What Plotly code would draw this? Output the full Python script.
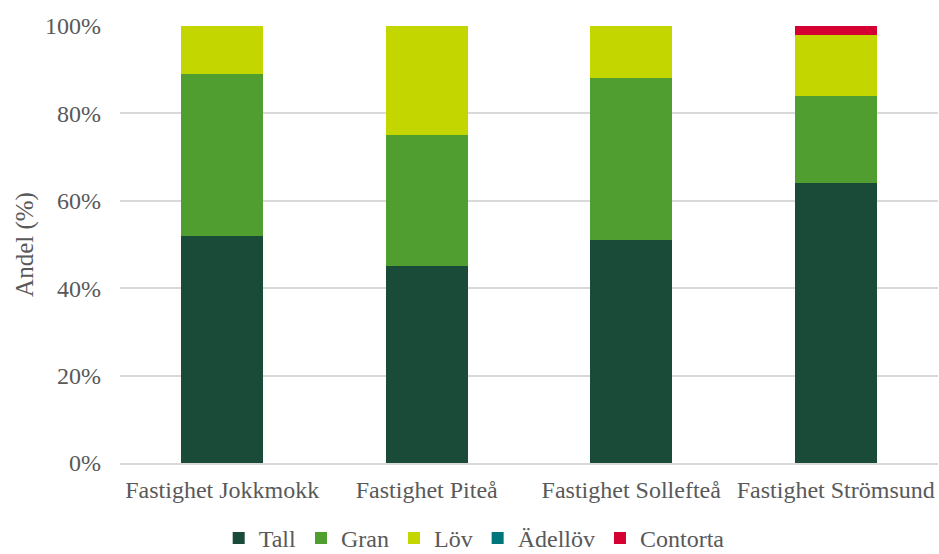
import plotly.graph_objects as go

categories = ["Fastighet Jokkmokk", "Fastighet Piteå", "Fastighet Sollefteå", "Fastighet Strömsund"]
tall = [52, 45, 51, 64]
gran = [37, 30, 37, 20]
lov = [11, 25, 12, 14]
adellov = [0, 0, 0, 0]
contorta = [0, 0, 0, 2]
series_names = ["Tall", "Gran", "Löv", "Ädellöv", "Contorta"]
colors = ["#1a4a38", "#509e2f", "#c4d600", "#00757a", "#d50032"]
y_ticks = [0, 20, 40, 60, 80, 100]
y_ticklabels = ["0%", "20%", "40%", "60%", "80%", "100%"]

FONT = "Liberation Serif"
TXT = "#595959"

fig = go.Figure()
for name, vals, col in zip(series_names, [tall, gran, lov, adellov, contorta], colors):
    fig.add_trace(go.Bar(x=categories, y=vals, name=name, marker=dict(color=col, line=dict(width=0)), width=0.4))

fig.update_layout(
    barmode="stack",
    width=939, height=554,
    margin=dict(l=120, r=1, t=26, b=91, autoexpand=False),
    paper_bgcolor="white", plot_bgcolor="white",
    font=dict(family=FONT, size=24, color=TXT),
    legend=dict(orientation="h", x=0.505, xanchor="center", xref="container",
                y=0.028, yanchor="middle", yref="container",
                font=dict(family=FONT, size=24, color=TXT), traceorder="normal", itemwidth=30,
                itemclick=False, tracegroupgap=0),
    showlegend=True,
)
fig.update_xaxes(showgrid=False, showline=True, linecolor="#d9d9d9", linewidth=1.5,
                 tickfont=dict(family=FONT, size=24, color=TXT), ticks="", automargin=False,
                 ticklabelstandoff=4)
fig.update_yaxes(range=[0, 100], tickvals=y_ticks, ticktext=y_ticklabels, showgrid=True,
                 gridcolor="#d9d9d9", gridwidth=1.5, zeroline=False, automargin=False,
                 title=dict(text="Andel (%)", font=dict(family=FONT, size=25, color=TXT), standoff=4),
                 tickfont=dict(family=FONT, size=24, color=TXT), ticks="", ticklabelstandoff=18)

fig.write_html("out.html")
